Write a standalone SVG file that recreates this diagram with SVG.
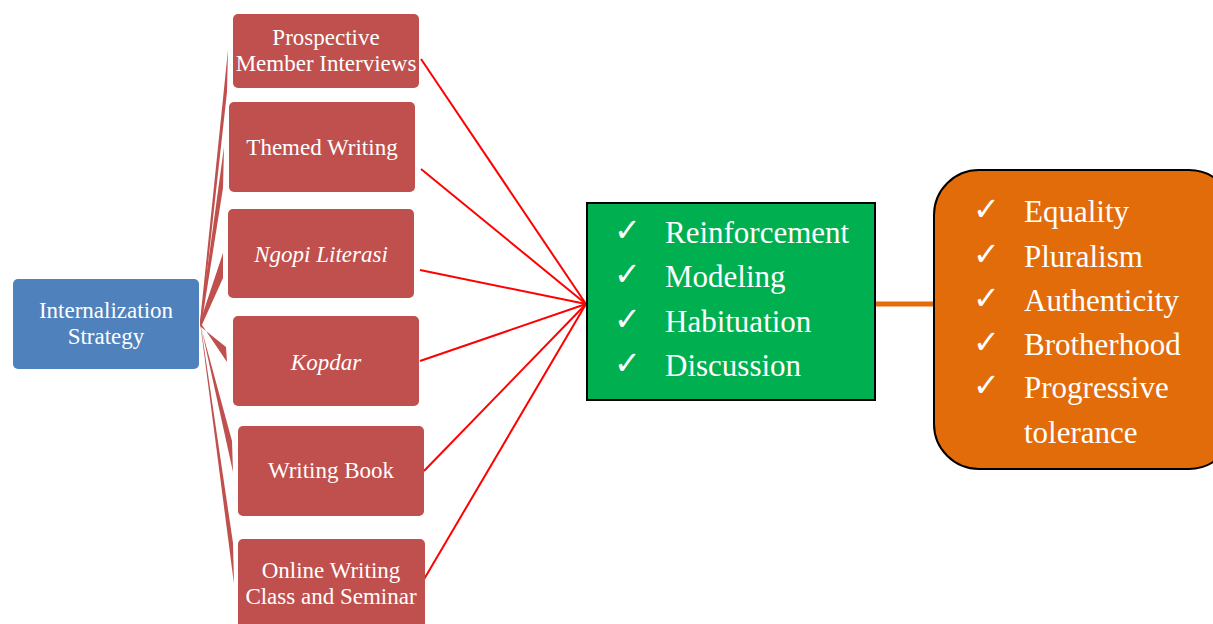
<svg xmlns="http://www.w3.org/2000/svg" width="1213" height="624" viewBox="0 0 1213 624">
<defs>
<style>
.red{fill:#C0504D;}
.lbl{font-family:"Liberation Serif",serif;font-size:23px;fill:#fff;text-anchor:middle;}
.it{font-style:italic;}
.big{font-family:"Liberation Serif",serif;font-size:31px;fill:#fff;}
.chk{font-family:"DejaVu Sans",sans-serif;font-size:32px;fill:#fff;}
.wedge{fill:#C0504D;}
.rl{stroke:#FF0000;stroke-width:2;fill:none;}
</style>
</defs>
<rect width="1213" height="624" fill="#fff"/>
<g id="connectors">
<polygon class="wedge" points="200,322 228,50 227,92 201,327"/>
<polygon class="wedge" points="200,322 224,147 223,188 201,327"/>
<polygon class="wedge" points="200,322 223,253 223,278 201,327"/>
<polygon class="wedge" points="200,322 227,362 226,347 201,327"/>
<polygon class="wedge" points="200,322 233,472 232,441 201,327"/>
<polygon class="wedge" points="200,322 234,584 233,543 201,327"/>
<line class="rl" x1="421" y1="59" x2="586" y2="304"/>
<line class="rl" x1="421" y1="169" x2="586" y2="304"/>
<line class="rl" x1="420" y1="270" x2="586" y2="304"/>
<line class="rl" x1="420" y1="361" x2="586" y2="304"/>
<line class="rl" x1="424" y1="471" x2="586" y2="304"/>
<line class="rl" x1="423" y1="581" x2="586" y2="304"/>
<line x1="876" y1="304" x2="934" y2="304" stroke="#E36C09" stroke-width="5"/>
</g>
<g id="internalization">
<rect x="13" y="279" width="186" height="90" rx="5" fill="#4F81BD"/>
<text class="lbl" x="106" y="318">Internalization</text>
<text class="lbl" x="106" y="344">Strategy</text>
</g>
<g id="prospective">
<rect class="red" x="233" y="14" width="186" height="74" rx="5"/>
<text class="lbl" x="326" y="45">Prospective</text>
<text class="lbl" x="326" y="71">Member Interviews</text>
</g>
<g id="themed">
<rect class="red" x="229" y="102" width="186" height="90" rx="5"/>
<text class="lbl" x="322" y="155">Themed Writing</text>
</g>
<g id="ngopi">
<rect class="red" x="228" y="209" width="186" height="89" rx="5"/>
<text class="lbl it" x="321" y="262">Ngopi Literasi</text>
</g>
<g id="kopdar">
<rect class="red" x="233" y="316" width="186" height="90" rx="5"/>
<text class="lbl it" x="326" y="370">Kopdar</text>
</g>
<g id="writingbook">
<rect class="red" x="238" y="426" width="186" height="90" rx="5"/>
<text class="lbl" x="331" y="478">Writing Book</text>
</g>
<g id="online">
<rect class="red" x="238" y="539" width="187" height="95" rx="5"/>
<text class="lbl" x="331" y="578">Online Writing</text>
<text class="lbl" x="331" y="604">Class and Seminar</text>
</g>
<g id="methods">
<rect x="587" y="203" width="288" height="197" fill="#00B050" stroke="#000" stroke-width="2"/>
<text class="chk" x="614" y="241">✓</text>
<text class="big" x="665" y="243">Reinforcement</text>
<text class="chk" x="614" y="285">✓</text>
<text class="big" x="665" y="287">Modeling</text>
<text class="chk" x="614" y="330">✓</text>
<text class="big" x="665" y="332">Habituation</text>
<text class="chk" x="614" y="374">✓</text>
<text class="big" x="665" y="376">Discussion</text>
</g>
<g id="values">
<rect x="934" y="170" width="300" height="299" rx="45" fill="#E36C0A" stroke="#000" stroke-width="2"/>
<text class="chk" x="973" y="220">✓</text>
<text class="big" x="1024" y="222">Equality</text>
<text class="chk" x="973" y="265">✓</text>
<text class="big" x="1024" y="267">Pluralism</text>
<text class="chk" x="973" y="309">✓</text>
<text class="big" x="1024" y="311">Authenticity</text>
<text class="chk" x="973" y="353">✓</text>
<text class="big" x="1024" y="355">Brotherhood</text>
<text class="chk" x="973" y="396">✓</text>
<text class="big" x="1024" y="398">Progressive</text>
<text class="big" x="1024" y="443">tolerance</text>
</g>
</svg>
